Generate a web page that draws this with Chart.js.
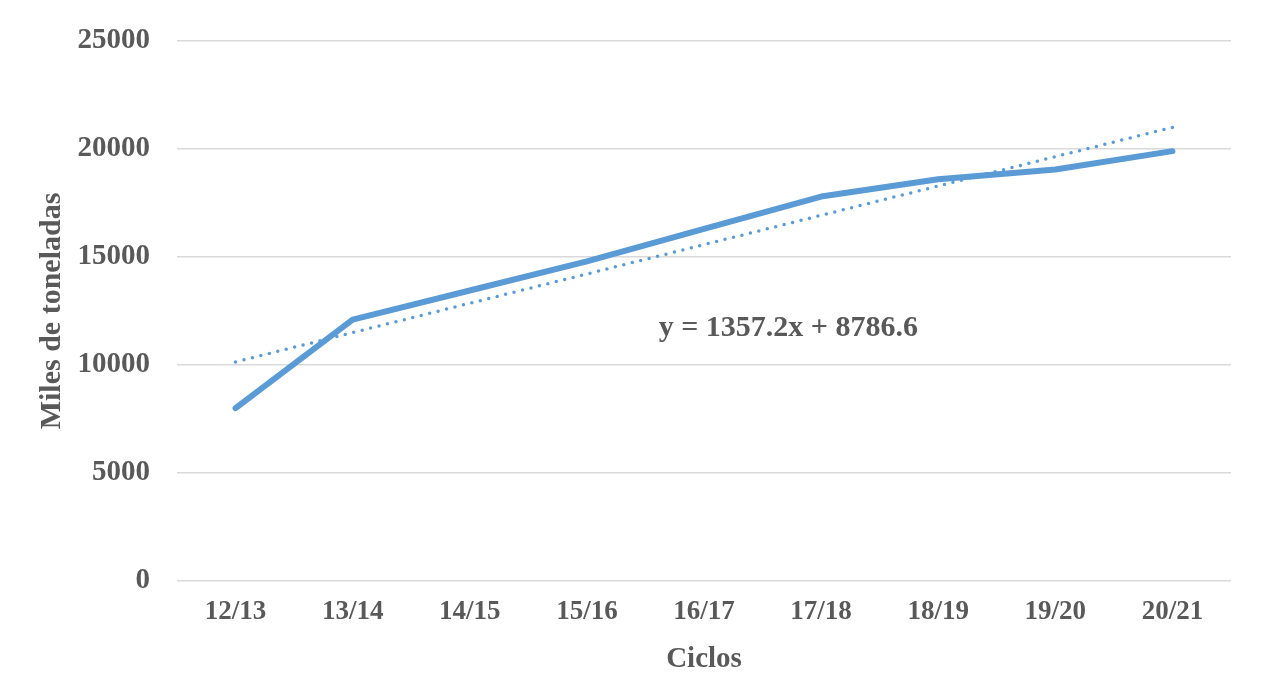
<!DOCTYPE html>
<html>
<head>
<meta charset="utf-8">
<script src="https://cdn.jsdelivr.net/npm/chart.js@4/dist/chart.umd.min.js"></script>
<style>
  html, body { margin: 0; padding: 0; background: #ffffff; }
  canvas { display: block; }
</style>
</head>
<body>
<canvas id="chart" width="1265" height="677"></canvas>
<script>
// Ciclos and production (miles de toneladas)
const ciclos = ["12/13", "13/14", "14/15", "15/16", "16/17", "17/18", "18/19", "19/20", "20/21"];
const produccion = [8000, 12100, 13450, 14800, 16300, 17800, 18600, 19050, 19900];
const yTicks = [0, 5000, 10000, 15000, 20000, 25000];

// Linear trend as printed on the chart
const trendSlope = 1357.2;
const trendIntercept = 8786.6;
const trendLabel = "y = 1357.2x + 8786.6";

const tendencia = ciclos.map((_, i) => trendSlope * (i + 1) + trendIntercept);

const textColor = "#595959";
const lineColor = "#5B9BD5";
const fontFamily = "'Liberation Serif', 'Times New Roman', serif";

// draws the trend equation inside the plot
const equationPlugin = {
  id: "equation",
  afterDatasetsDraw(chart) {
    const { ctx, scales } = chart;
    const x = scales.x.getPixelForValue(4.72);
    const y = scales.y.getPixelForValue(11700);
    ctx.save();
    ctx.font = "bold 30px " + fontFamily;
    ctx.fillStyle = textColor;
    ctx.textAlign = "center";
    ctx.textBaseline = "middle";
    ctx.fillText(trendLabel, x, y);
    ctx.restore();
  },
};

const ctx = document.getElementById("chart").getContext("2d");
new Chart(ctx, {
  type: "line",
  data: {
    labels: ciclos,
    datasets: [
      {
        label: "Tendencia",
        data: tendencia,
        borderColor: lineColor,
        borderWidth: 3.5,
        borderDash: [0, 8.7],
        borderCapStyle: "round",
        pointRadius: 0,
        tension: 0,
        order: 0,
      },
      {
        label: "Producción",
        data: produccion,
        borderColor: lineColor,
        borderWidth: 6,
        borderCapStyle: "round",
        borderJoinStyle: "round",
        pointRadius: 0,
        tension: 0,
        order: 1,
      },
    ],
  },
  options: {
    responsive: false,
    animation: false,
    layout: { padding: { top: 41, right: 34, bottom: 0, left: 0 } },
    plugins: {
      legend: { display: false },
      tooltip: { enabled: false },
    },
    scales: {
      x: {
        offset: true,
        grid: { display: false, drawTicks: false },
        border: { display: false },
        ticks: {
          color: textColor,
          padding: 15,
          maxRotation: 0,
          font: { family: fontFamily, size: 27, weight: "bold" },
        },
        title: {
          display: true,
          text: "Ciclos",
          color: textColor,
          padding: { top: 0, bottom: 0 },
          font: { family: fontFamily, size: 29, weight: "bold" },
        },
        afterFit(scale) {
          scale.height = 96;
        },
      },
      y: {
        min: 0,
        max: 25000,
        afterBuildTicks(scale) {
          scale.ticks = yTicks.map((v) => ({ value: v }));
        },
        grid: { color: "#D9D9D9", lineWidth: 1.5, drawTicks: false },
        border: { display: false },
        ticks: {
          color: textColor,
          padding: 27,
          callback: (v) => String(v),
          font: { family: fontFamily, size: 29, weight: "bold" },
        },
        title: {
          display: true,
          text: "Miles de toneladas",
          color: textColor,
          padding: { top: 34, bottom: 0 },
          font: { family: fontFamily, size: 30, weight: "bold" },
        },
        afterFit(scale) {
          scale.width = 177;
          // the tick padding would otherwise push the plot top down
          scale.paddingTop = 0;
          scale.paddingBottom = 0;
        },
      },
    },
  },
  plugins: [equationPlugin],
});
</script>
</body>
</html>
